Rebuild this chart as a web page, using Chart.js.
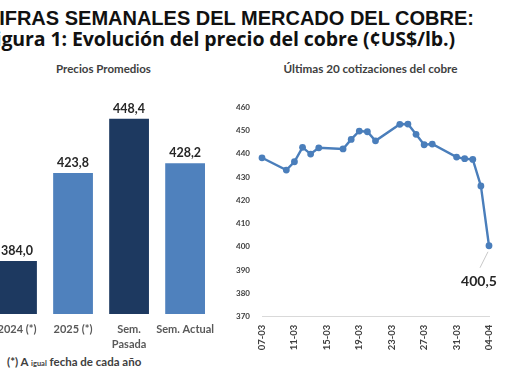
<!DOCTYPE html>
<html>
<head>
<meta charset="utf-8">
<script src="https://cdn.jsdelivr.net/npm/chart.js@4"></script>
<style>
  html, body { margin:0; padding:0; background:#ffffff; }
  body { width:510px; height:382px; position:relative; overflow:hidden; }
  .t { position:absolute; white-space:nowrap; }
  #t1 { right:36px; top:8px; font:bold 20px/20px "Liberation Sans", Arial, sans-serif; color:#111; text-align:right; }
  #t2 { right:55px; top:27px; font:bold 19.5px/1.2 "Open Sans", sans-serif; color:#111; text-align:right; letter-spacing:-0.1px; }
  #s1 { left:3.5px; width:200px; top:61.5px; font:bold 11.5px/1.2 Lato, sans-serif; color:#404040; text-align:center; }
  #s2 { left:270.5px; width:200px; top:60.5px; font:bold 11.7px/1.2 Lato, sans-serif; color:#404040; text-align:center; }
  #fn { left:7px; top:354.5px; font:bold 11.5px/1.2 Lato, sans-serif; color:#404040; }
  #fn small { font-size:7.5px; }
  canvas { position:absolute; }
  #c1 { left:-11px; top:80px; }
  #c2 { left:220px; top:90px; }
</style>
</head>
<body>
<div class="t" id="t1">CIFRAS SEMANALES DEL MERCADO DEL COBRE:</div>
<div class="t" id="t2">Figura 1: Evolución del precio del cobre (¢US$/lb.)</div>
<div class="t" id="s1">Precios Promedios</div>
<div class="t" id="s2">Últimas 20 cotizaciones del cobre</div>
<div class="t" id="fn">(*) A <small>igual</small> fecha de cada año</div>
<canvas id="c1" width="233" height="290"></canvas>
<canvas id="c2" width="290" height="280"></canvas>
<script>
// ---- Data ----
const barCategories = ['2024 (*)', '2025 (*)', ['Sem.', 'Pasada'], 'Sem. Actual'];
const barValues = [384.0, 423.8, 448.4, 428.2];

const dayLabels = ['07-03','08-03','09-03','10-03','11-03','12-03','13-03','14-03','15-03','16-03',
  '17-03','18-03','19-03','20-03','21-03','22-03','23-03','24-03','25-03','26-03','27-03','28-03',
  '29-03','30-03','31-03','01-04','02-04','03-04','04-04'];
const priceValues = [438.3, null, null, 433.0, 436.6, 442.8, 439.9, 442.6, null, null,
  442.1, 446.2, 449.8, 449.5, 445.6, null, null, 452.7, 452.8, 448.4, 443.9, 444.2,
  null, null, 438.6, 437.9, 437.6, 426.2, 400.5];
const priceTicks = [370, 380, 390, 400, 410, 420, 430, 440, 450, 460];

const DARK = '#1d3960', LIGHT = '#4f81bd', LINE = '#4a7ebb';
const fmt = v => v.toFixed(1).replace('.', ',');

// ---- Bar chart ----
const barLabelPlugin = {
  id: 'barLabels',
  afterDatasetsDraw(chart) {
    const ctx = chart.ctx, meta = chart.getDatasetMeta(0);
    ctx.save();
    ctx.font = 'bold 12.5px Lato, sans-serif';
    ctx.fillStyle = '#262626';
    ctx.textAlign = 'center';
    ctx.textBaseline = 'middle';
    meta.data.forEach((bar, i) => ctx.fillText(fmt(barValues[i]), bar.x, bar.y - 10));
    ctx.restore();
  }
};

new Chart(document.getElementById('c1'), {
  type: 'bar',
  data: {
    labels: barCategories,
    datasets: [{
      data: barValues,
      backgroundColor: [DARK, LIGHT, DARK, LIGHT],
      borderWidth: 0,
      barPercentage: 0.71,
      categoryPercentage: 1.0
    }]
  },
  options: {
    responsive: false, devicePixelRatio: 1, animation: false,
    layout: { padding: { top: 13, left: 0, right: 0, bottom: 0 } },
    plugins: { legend: { display: false }, tooltip: { enabled: false } },
    scales: {
      y: { display: false, min: 360, max: 460 },
      x: {
        grid: { display: false, drawTicks: false },
        border: { display: false },
        ticks: { color: '#595959', padding: 8, maxRotation: 0, autoSkip: false,
                 font: { family: 'Lato, sans-serif', size: 11, weight: 'bold', lineHeight: 1.35 } },
        afterFit: s => { s.height = 56; }
      }
    }
  },
  plugins: [barLabelPlugin]
});

// ---- Line chart ----
const lastLabelPlugin = {
  id: 'lastLabel',
  afterDatasetsDraw(chart) {
    const ctx = chart.ctx, meta = chart.getDatasetMeta(0);
    const idx = priceValues.length - 1;
    const p = meta.data[idx];
    ctx.save();
    ctx.strokeStyle = '#c8c8c8';
    ctx.lineWidth = 1;
    ctx.beginPath();
    ctx.moveTo(p.x - 1, p.y + 6);
    ctx.lineTo(p.x - 9, p.y + 22);
    ctx.stroke();
    ctx.font = 'bold 14px Lato, sans-serif';
    ctx.fillStyle = '#262626';
    ctx.textAlign = 'center';
    ctx.textBaseline = 'middle';
    ctx.fillText(fmt(priceValues[idx]), p.x - 10, p.y + 36);
    ctx.restore();
  }
};

new Chart(document.getElementById('c2'), {
  type: 'line',
  data: {
    labels: dayLabels,
    datasets: [{
      data: priceValues,
      borderColor: LINE,
      backgroundColor: LINE,
      borderWidth: 2.4,
      pointRadius: 3.4,
      pointBackgroundColor: LINE,
      pointBorderWidth: 0,
      spanGaps: true,
      tension: 0
    }]
  },
  options: {
    responsive: false, devicePixelRatio: 1, animation: false,
    layout: { padding: { top: 17.3, left: 0, right: 21, bottom: 0 } },
    plugins: { legend: { display: false }, tooltip: { enabled: false } },
    scales: {
      y: {
        min: 370, max: 460,
        afterBuildTicks: s => { s.ticks = priceTicks.map(v => ({ value: v })); },
        grid: { display: false, drawTicks: false },
        border: { display: false },
        ticks: { color: '#404040', padding: 12,
                 font: { family: 'Lato, sans-serif', size: 8, weight: 'bold' } },
        afterFit: s => { s.width = 42; }
      },
      x: {
        grid: { display: false, drawTicks: false },
        border: { display: true, color: '#d9d9d9', width: 1 },
        ticks: {
          color: '#404040', padding: 8, minRotation: 90, maxRotation: 90, autoSkip: false,
          font: { family: 'Lato, sans-serif', size: 9.5, weight: 'bold' },
          callback: (v, i) => (i % 4 === 0 ? dayLabels[i] : '')
        },
        afterFit: s => { s.height = 53.3; }
      }
    }
  },
  plugins: [lastLabelPlugin]
});
</script>
</body>
</html>
